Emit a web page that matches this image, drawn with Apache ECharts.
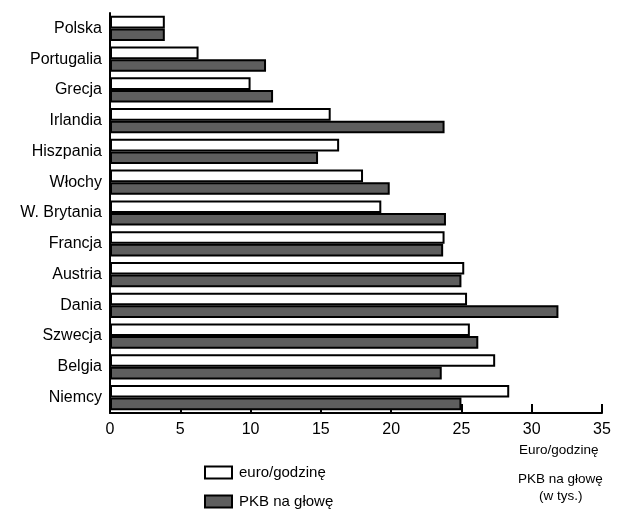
<!DOCTYPE html>
<html>
<head>
<meta charset="utf-8">
<script src="https://cdn.jsdelivr.net/npm/echarts@6/dist/echarts.min.js"></script>
<style>
html,body{margin:0;padding:0;background:#fff;}
#chart{width:617px;height:510px;}
</style>
</head>
<body>
<div id="chart"></div>
<script>
var categories = ['Polska','Portugalia','Grecja','Irlandia','Hiszpania','Włochy','W. Brytania','Francja','Austria','Dania','Szwecja','Belgia','Niemcy'];
var euroPerHour = [3.9, 6.3, 10.0, 15.7, 16.3, 18.0, 19.3, 23.8, 25.2, 25.4, 25.6, 27.4, 28.4];
var gdpPerCapita = [3.9, 11.1, 11.6, 23.8, 14.8, 19.9, 23.9, 23.7, 25.0, 31.9, 26.2, 23.6, 25.0];
var xTicks = [0, 5, 10, 15, 20, 25, 30, 35];
var seriesNames = ['euro/godzinę', 'PKB na głowę'];

var font = 'Liberation Sans, Arial, sans-serif';
var chart = echarts.init(document.getElementById('chart'), null, {renderer: 'canvas'});
var legendCommon = {
  orient: 'horizontal',
  left: 199,
  itemWidth: 27,
  itemHeight: 12,
  icon: 'rect',
  textStyle: {fontSize: 15, fontFamily: font, color: '#000', padding: [0, 0, 0, 2]}
};
chart.setOption({
  animation: false,
  backgroundColor: '#fff',
  textStyle: {fontFamily: font, color: '#000'},
  grid: {left: 110, right: 15, top: 13, bottom: 97, containLabel: false},
  xAxis: {
    type: 'value',
    min: xTicks[0],
    max: xTicks[xTicks.length - 1],
    interval: 5,
    axisLine: {show: true, lineStyle: {color: '#000', width: 2}},
    axisTick: {show: true, inside: true, length: 9, lineStyle: {color: '#000', width: 2}},
    splitLine: {show: false},
    axisLabel: {color: '#000', fontSize: 16, fontFamily: font, margin: 9}
  },
  yAxis: {
    type: 'category',
    data: categories,
    inverse: true,
    axisLine: {show: true, lineStyle: {color: '#000', width: 2}},
    axisTick: {show: false},
    axisLabel: {color: '#000', fontSize: 16, fontFamily: font, margin: 8}
  },
  legend: [
    Object.assign({}, legendCommon, {top: 460, data: [seriesNames[0]]}),
    Object.assign({}, legendCommon, {top: 489, data: [seriesNames[1]]})
  ],
  series: [
    {
      name: seriesNames[0],
      type: 'bar',
      data: euroPerHour,
      barGap: '0%',
      barCategoryGap: '18%',
      itemStyle: {color: '#fff', borderColor: '#000', borderWidth: 2}
    },
    {
      name: seriesNames[1],
      type: 'bar',
      data: gdpPerCapita,
      barGap: '0%',
      barCategoryGap: '18%',
      itemStyle: {color: '#5e5e5e', borderColor: '#000', borderWidth: 2}
    }
  ],
  graphic: [
    {type: 'text', left: 519, top: 443, style: {text: 'Euro/godzinę', font: '13.5px ' + font, fill: '#000'}},
    {type: 'text', left: 518, top: 472, style: {text: 'PKB na głowę', font: '13.5px ' + font, fill: '#000'}},
    {type: 'text', left: 539, top: 489, style: {text: '(w tys.)', font: '13.5px ' + font, fill: '#000'}}
  ]
});
</script>
</body>
</html>
